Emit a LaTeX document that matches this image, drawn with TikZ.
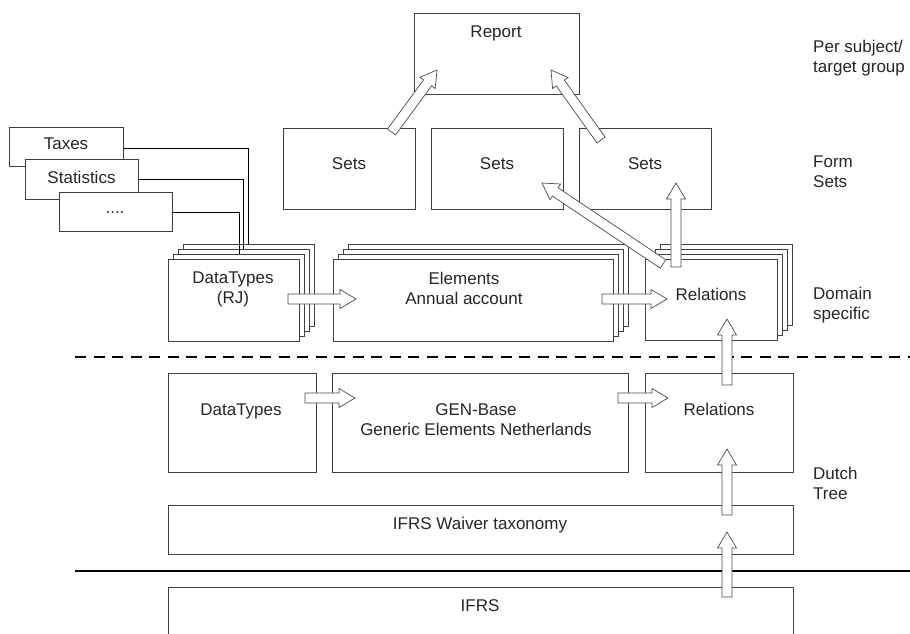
\documentclass[tikz,border=0pt]{standalone}
\usepackage{fontspec}
\setmainfont{Liberation Sans}
\usetikzlibrary{calc}
\tikzset{
  box/.style={draw=black!75, fill=white, line width=0.9pt, inner sep=0pt, outer sep=0pt},
  txt/.style={text=black!85, inner sep=0pt, font=\fontsize{17}{20}\selectfont},
  mtxt/.style={text=black!85, inner sep=0pt, align=center, font=\fontsize{17}{20}\selectfont},
  ltxt/.style={text=black!85, inner sep=0pt, align=left, anchor=north west, font=\fontsize{17}{20}\selectfont},
  barrow/.style={draw=black!70, fill=white, line width=0.7pt, line join=miter},
  wire/.style={draw=black, line width=0.9pt}
}
% box node from corners x1,y1,x2,y2 (pixel units)
\newcommand\sheet[5]{%
  \node[box, minimum width={((#4)-(#2))*1pt}, minimum height={((#5)-(#3))*1pt}] (#1) at ({((#2)+(#4))/2},{((#3)+(#5))/2}) {};}
\newcommand\stackbox[5]{%
  \foreach \k in {3,2,1}{\sheet{#1-\k}{#2+5*\k}{#3-5*\k}{#4+5*\k}{#5-5*\k}}%
  \sheet{#1}{#2}{#3}{#4}{#5}}
\newcommand\blockarrow[2]{%
  \draw[barrow] let \p1=(#1), \p2=(#2),
     \n1={atan2(\y2-\y1,\x2-\x1)}, \n2={veclen(\x2-\x1,\y2-\y1)} in
   ($(\p1)+(\n1+90:5pt)$)
   -- ($(\p1)+(\n1:{\n2-16pt})+(\n1+90:5pt)$)
   -- ($(\p1)+(\n1:{\n2-16pt})+(\n1+90:9.5pt)$)
   -- (\p2)
   -- ($(\p1)+(\n1:{\n2-16pt})+(\n1-90:9.5pt)$)
   -- ($(\p1)+(\n1:{\n2-16pt})+(\n1-90:5pt)$)
   -- ($(\p1)+(\n1-90:5pt)$) -- cycle;}
\begin{document}
\begin{tikzpicture}[x=1pt,y=-1pt]
\clip (0,0) rectangle (910,634);
\useasboundingbox (0,0) rectangle (910,634);
\fill[white] (0,0) rectangle (910,634);

% top
\sheet{report}{414}{13}{579}{94}
\node[txt, anchor=base] (reportt) at (496,38) {Report};
\sheet{setsA}{283}{128}{415}{209}
\sheet{setsB}{431}{128}{563}{209}
\sheet{setsC}{579}{128}{711}{209}
\node[txt, anchor=base] (setsAt) at (349,169) {Sets};
\node[txt, anchor=base] (setsBt) at (497,169) {Sets};
\node[txt, anchor=base] (setsCt) at (645,169) {Sets};

% side boxes
\sheet{taxes}{9}{127}{123}{166}
\sheet{stats}{25}{159}{138}{199}
\sheet{more}{59}{192}{172}{231}
\node[txt, anchor=base] (taxest) at (66,149) {Taxes};
\node[txt, anchor=base] (statst) at (81.5,183) {Statistics};
\node[txt, anchor=base] (moret) at (115,213.5) {....};

% domain specific stacks
\stackbox{dtrj}{168}{259}{299}{341}
\stackbox{elem}{333}{259}{613}{341}
\stackbox{rel}{645}{259}{777}{340}
\node[mtxt, anchor=north] (dtrjt) at (233,272) {DataTypes\\(RJ)};
\node[mtxt, anchor=north] (elemt) at (464,272) {Elements\\Annual account};
\node[txt, anchor=base] (relt) at (711,300) {Relations};

% wires from side boxes
\coordinate (wt) at (248,148);
\coordinate (ws) at (243,179);
\coordinate (wm) at (239,212);
\draw[wire] (taxes.east |- wt) -- (wt) -- (wt |- dtrj-3.north);
\draw[wire] (stats.east |- ws) -- (ws) -- (ws |- dtrj-2.north);
\draw[wire] (more.east |- wm) -- (wm) -- (wm |- dtrj-1.north);

% dividers
\draw[line width=2.7pt, dash pattern=on 11pt off 7.5pt] (75,357) -- (910,357);
\draw[line width=2.5pt] (75,571) -- (910,571);

% Dutch tree
\sheet{dt}{168}{373}{316}{472}
\sheet{gen}{332}{373}{628}{472}
\sheet{rel2}{645}{373}{793}{472}
\node[txt, anchor=base] (dtt) at (241,415) {DataTypes};
\node[mtxt, anchor=north] (gent) at (476,403) {GEN-Base\\Generic Elements Netherlands};
\node[txt, anchor=base] (rel2t) at (719,415) {Relations};
\sheet{waiver}{168}{505}{793}{554}
\node[txt, anchor=base] (waivert) at (480,529) {IFRS Waiver taxonomy};
\sheet{ifrs}{168}{587}{793}{660}
\node[txt, anchor=base] (ifrst) at (480,611) {IFRS};

% right labels
\node[ltxt] (l1) at (813,40) {Per subject/\\target group};
\node[ltxt] (l2) at (813,156) {Form\\Sets};
\node[ltxt] (l3) at (813,287) {Domain\\specific};
\node[ltxt] (l4) at (813,467) {Dutch\\Tree};

% block arrows
\coordinate (a1s) at (391.5,132); \coordinate (a1e) at (437,70);
\coordinate (a2s) at (601,140);   \coordinate (a2e) at (551,70);
\coordinate (a3s) at (663,264);   \coordinate (a3e) at (542,183);
\coordinate (a4s) at (676,267);   \coordinate (a4e) at (676,183);
\coordinate (a5s) at (288,299);   \coordinate (a5e) at (356,299);
\coordinate (a6s) at (602,299);   \coordinate (a6e) at (667,299);
\coordinate (a7s) at (305,398);   \coordinate (a7e) at (355,398);
\coordinate (a8s) at (618,398);   \coordinate (a8e) at (668,398);
\coordinate (a9s) at (727,385);   \coordinate (a9e) at (727,319);
\coordinate (a10s) at (727,515);  \coordinate (a10e) at (727,449);
\coordinate (a11s) at (727,597);  \coordinate (a11e) at (727,532);
\blockarrow{a1s}{a1e}
\blockarrow{a2s}{a2e}
\blockarrow{a3s}{a3e}
\blockarrow{a4s}{a4e}
\blockarrow{a5s}{a5e}
\blockarrow{a6s}{a6e}
\blockarrow{a7s}{a7e}
\blockarrow{a8s}{a8e}
\blockarrow{a9s}{a9e}
\blockarrow{a10s}{a10e}
\blockarrow{a11s}{a11e}
\end{tikzpicture}
\end{document}
